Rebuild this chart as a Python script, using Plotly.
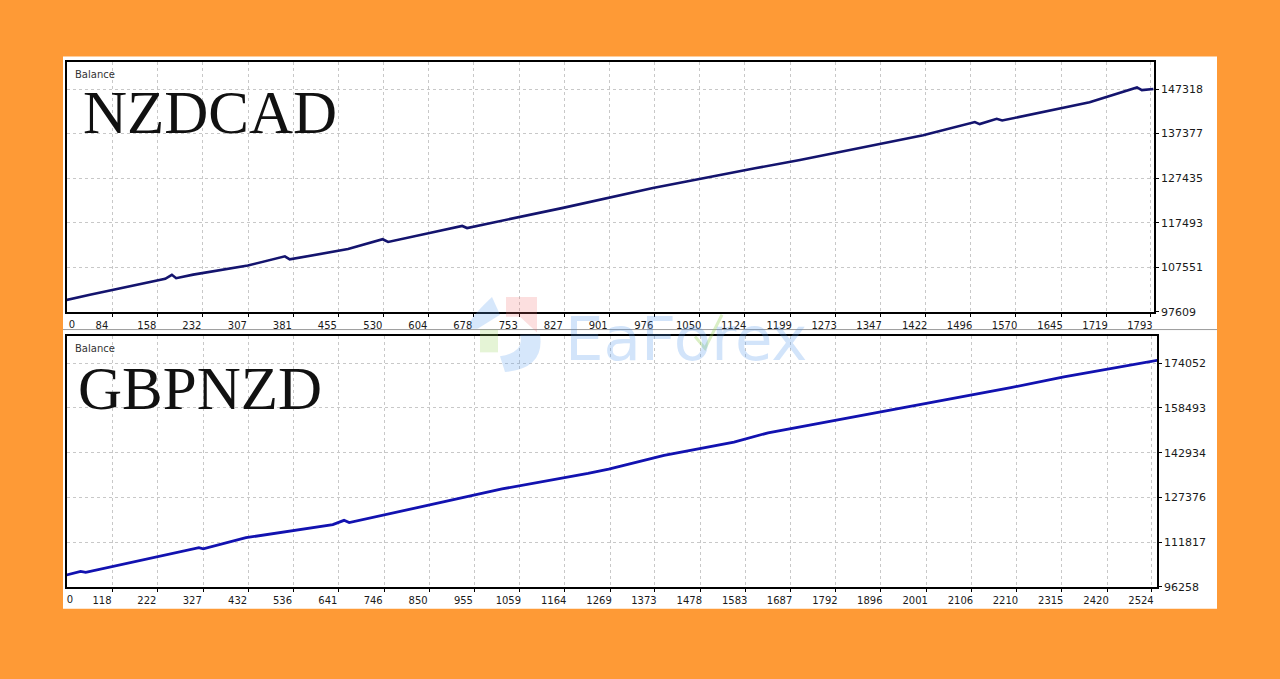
import plotly.graph_objects as go

W, H = 1280, 679

# ---------------- data ----------------
top_trades = [0, 46, 170, 181, 188, 216, 306, 367, 375, 471, 528, 537, 609, 659, 667,
              825, 973, 1050, 1141, 1215, 1418, 1503, 1511, 1539, 1548, 1692, 1770, 1778, 1797]
top_balance = [100000, 101400, 104966, 105850, 105100, 105900, 107925, 109980, 109300, 111595,
               113800, 113200, 115280, 116760, 116300, 120800, 125220, 127280, 129640, 131480,
               137000, 139950, 139500, 140690, 140300, 144370, 147690, 147100, 147318]
top_xlabels = ["0", "84", "158", "232", "307", "381", "455", "530", "604", "678", "753", "827",
               "901", "976", "1050", "1124", "1199", "1273", "1347", "1422", "1496", "1570",
               "1645", "1719", "1793"]
top_ylabels = [97609, 107551, 117493, 127435, 137377, 147318]

bot_trades = [0, 43, 55, 217, 317, 327, 426, 627, 653, 665, 854, 1019, 1218, 1266, 1394,
              1556, 1635, 1825, 2031, 2197, 2320, 2394, 2429, 2536]
bot_balance = [100000, 101650, 101300, 106480, 109920, 109500, 113365, 117940, 119400, 118600,
               124830, 130330, 135740, 137220, 142030, 146620, 149850, 155220, 160970, 165550,
               169330, 171300, 172430, 175050]
bot_xlabels = ["0", "118", "222", "327", "432", "536", "641", "746", "850", "955", "1059",
               "1164", "1269", "1373", "1478", "1583", "1687", "1792", "1896", "2001", "2106",
               "2210", "2315", "2420", "2524"]
bot_ylabels = [96258, 111817, 127376, 142934, 158493, 174052]

pairs = ["NZDCAD", "GBPNZD"]
panel_title = "Balance"
watermark = "EaForex"

# ---------------- layout helpers ----------------
def px_x(p):
    return p / W

def px_y(p):
    return 1 - p / H

grid_col = "#c8c8c8"
tick_font = dict(family="DejaVu Sans", size=10, color="#1a1a1a")
title_font_family = "Liberation Serif, serif"

fig = go.Figure()

fig.add_trace(go.Scatter(x=top_trades, y=top_balance, mode="lines",
                         line=dict(color="#14146e", width=2.6),
                         xaxis="x", yaxis="y", showlegend=False, hoverinfo="skip"))
fig.add_trace(go.Scatter(x=bot_trades, y=bot_balance, mode="lines",
                         line=dict(color="#1212b0", width=2.8),
                         xaxis="x2", yaxis="y2", showlegend=False, hoverinfo="skip"))
# invisible carriers so the "0"-label overlay axes get drawn
fig.add_trace(go.Scatter(x=top_trades[:1], y=top_balance[:1], mode="markers", opacity=0,
                         xaxis="x3", yaxis="y", showlegend=False, hoverinfo="skip"))
fig.add_trace(go.Scatter(x=bot_trades[:1], y=bot_balance[:1], mode="markers", opacity=0,
                         xaxis="x4", yaxis="y2", showlegend=False, hoverinfo="skip"))

top_xvals = [float(v) for v in top_xlabels]
bot_xvals = [float(v) for v in bot_xlabels]
top_xrange = [8.3, 1798]
bot_xrange = [11.5, 2535.6]
top_yrange = [97609, 153283]
bot_yrange = [96258, 183346]

common_x = dict(showline=True, mirror=True, linecolor="black", linewidth=1.5,
                showgrid=True, gridcolor=grid_col, griddash="3px,3px", gridwidth=1,
                ticks="outside", ticklen=3, tickcolor="black", tickfont=tick_font,
                ticklabelshift=-11, zeroline=False, fixedrange=True)
common_y = dict(showline=True, mirror=True, linecolor="black", linewidth=1.5,
                showgrid=True, gridcolor=grid_col, griddash="3px,3px", gridwidth=1,
                ticks="outside", ticklen=3, tickcolor="black",
                tickfont=dict(family="DejaVu Sans", size=11, color="#1a1a1a"),
                side="right", zeroline=False, fixedrange=True)

fig.update_layout(
    width=W, height=H, margin=dict(l=0, r=0, t=0, b=0),
    paper_bgcolor="#FE9A36", plot_bgcolor="white",
    xaxis=dict(domain=[px_x(67), px_x(1154)], anchor="y", range=top_xrange,
               tickmode="array", tickvals=top_xvals[1:], ticktext=top_xlabels[1:], **common_x),
    yaxis=dict(domain=[px_y(315), px_y(63)], anchor="x", range=top_yrange,
               tickmode="array", tickvals=top_ylabels, ticktext=[str(v) for v in top_ylabels],
               **common_y),
    xaxis2=dict(domain=[px_x(67), px_x(1157)], anchor="y2", range=bot_xrange,
                tickmode="array", tickvals=bot_xvals[1:], ticktext=bot_xlabels[1:], **common_x),
    yaxis2=dict(domain=[px_y(593), px_y(340)], anchor="x2", range=bot_yrange,
                tickmode="array", tickvals=bot_ylabels, ticktext=[str(v) for v in bot_ylabels],
                **common_y),
    # overlay axes carrying only the "0" label (no gridline)
    xaxis3=dict(overlaying="x", anchor="y", range=top_xrange, side="bottom",
                tickmode="array", tickvals=[34.6], ticktext=[top_xlabels[0]],
                showgrid=False, ticks="outside", ticklen=3, tickcolor="rgba(0,0,0,0)",
                showline=False, tickfont=tick_font,
                ticklabelshift=-11, zeroline=False, fixedrange=True),
    xaxis4=dict(overlaying="x2", anchor="y2", range=bot_xrange, side="bottom",
                tickmode="array", tickvals=[44], ticktext=[bot_xlabels[0]],
                showgrid=False, ticks="outside", ticklen=3, tickcolor="rgba(0,0,0,0)",
                showline=False, tickfont=tick_font,
                ticklabelshift=-11, zeroline=False, fixedrange=True),
)

shapes = [
    # white panel
    dict(type="rect", xref="paper", yref="paper", x0=px_x(63), x1=px_x(1217),
         y0=px_y(615), y1=px_y(57), fillcolor="white", line=dict(width=0), layer="below"),
    # separator line
    dict(type="line", xref="paper", yref="paper", x0=px_x(63), x1=px_x(1217),
         y0=px_y(333), y1=px_y(333), line=dict(color="#9a9a9a", width=1)),
    # watermark logo pieces
    dict(type="path", xref="paper", yref="paper",
         path=f"M {px_x(506)},{px_y(300)} L {px_x(537)},{px_y(300)} L {px_x(537)},{px_y(336)} "
              f"L {px_x(520)},{px_y(320)} L {px_x(506)},{px_y(320)} Z",
         fillcolor="rgba(240,110,110,0.22)", line=dict(width=0)),
    dict(type="rect", xref="paper", yref="paper", x0=px_x(480), x1=px_x(498),
         y0=px_y(356), y1=px_y(333), fillcolor="rgba(150,210,90,0.25)", line=dict(width=0)),
    dict(type="path", xref="paper", yref="paper",
         path=f"M {px_x(492)},{px_y(300)} Q {px_x(455)},{px_y(335)} {px_x(478)},{px_y(332)} "
              f"L {px_x(500)},{px_y(318)} Z",
         fillcolor="rgba(90,160,240,0.25)", line=dict(width=0)),
    dict(type="path", xref="paper", yref="paper",
         path=f"M {px_x(540)},{px_y(338)} Q {px_x(545)},{px_y(372)} {px_x(505)},{px_y(376)} "
              f"L {px_x(500)},{px_y(360)} Q {px_x(525)},{px_y(356)} {px_x(520)},{px_y(338)} Z",
         fillcolor="rgba(90,160,240,0.25)", line=dict(width=0)),
    dict(type="path", xref="paper", yref="paper",
         path=f"M {px_x(695)},{px_y(340)} L {px_x(705)},{px_y(352)} L {px_x(722)},{px_y(318)}",
         line=dict(color="rgba(150,210,90,0.35)", width=3)),
]

annotations = [
    dict(text=panel_title, x=px_x(73), y=px_y(75), xref="paper", yref="paper",
         xanchor="left", yanchor="middle", showarrow=False,
         font=dict(family="DejaVu Sans", size=10, color="#333333")),
    dict(text=panel_title, x=px_x(73), y=px_y(352), xref="paper", yref="paper",
         xanchor="left", yanchor="middle", showarrow=False,
         font=dict(family="DejaVu Sans", size=10, color="#333333")),
    dict(text=pairs[0], x=px_x(81), y=px_y(114), xref="paper", yref="paper",
         xanchor="left", yanchor="middle", showarrow=False,
         font=dict(family=title_font_family, size=61, color="#111111")),
    dict(text=pairs[1], x=px_x(76), y=px_y(393), xref="paper", yref="paper",
         xanchor="left", yanchor="middle", showarrow=False,
         font=dict(family=title_font_family, size=61, color="#111111")),
    dict(text=watermark, x=px_x(686), y=px_y(342), xref="paper", yref="paper",
         xanchor="center", yanchor="middle", showarrow=False,
         font=dict(family="DejaVu Sans", size=61, color="rgba(80,150,235,0.26)")),
]

fig.update_layout(shapes=shapes, annotations=annotations)

fig.write_html("out.html", config={"displayModeBar": False},
               post_script="document.body.style.margin='0';")
